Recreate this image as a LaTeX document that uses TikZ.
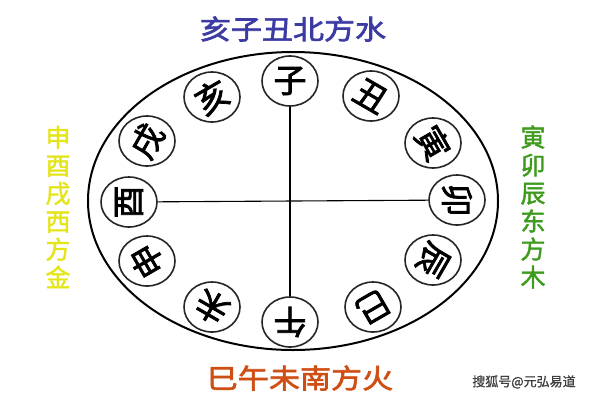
\documentclass[tikz,border=0pt]{standalone}
\usepackage{fontspec}
\usetikzlibrary{shapes.geometric}
\newfontfamily\cjk{Noto Sans CJK SC}[FakeBold=2.2]
\newfontfamily\cjkt{Noto Sans CJK SC}[FakeBold=2.4,FakeStretch=1.15]
\newfontfamily\cjks{Noto Sans CJK SC}[FakeBold=1.6]
\newfontfamily\cjkw{Noto Sans CJK SC}[FakeBold=1]
\definecolor{tblue}{HTML}{3B3BA3}
\definecolor{tyellow}{HTML}{E4E41A}
\definecolor{tgreen}{HTML}{3F9B1E}
\definecolor{torange}{HTML}{CF4E14}
\begin{document}
\begin{tikzpicture}[x=1pt,y=-1pt,
  ring/.style={draw=black!85, line width=1.6pt, ellipse, minimum width=56pt, minimum height=50pt, inner sep=0pt},
  glyph/.style={font=\cjk\fontsize{33}{33}\selectfont, inner sep=0pt},
  title/.style={font=\cjkt\fontsize{27}{27}\selectfont, inner sep=0pt},
  side/.style={font=\cjks\fontsize{25}{28}\selectfont, align=center, inner sep=0pt},
  axis/.style={line width=1.1pt, black}]
\useasboundingbox (0,0) rectangle (600,400);
\node[draw=black, line width=2pt, ellipse, minimum width=410pt, minimum height=298pt] (big) at (293,201) {};
% twelve branches
\node[ring] (zi)   at (290,81)  {};
\node[ring] (chou) at (371,96)  {};
\node[ring] (yin)  at (433,143) {};
\node[ring] (mao)  at (457,200) {};
\node[ring] (chen) at (433,260) {};
\node[ring] (si)   at (373,307) {};
\node[ring] (wu)   at (290,322) {};
\node[ring] (wei)  at (212,307) {};
\node[ring] (shen) at (147,261) {};
\node[ring] (you)  at (129,202) {};
\node[ring] (xu)   at (147,141) {};
\node[ring] (hai)  at (212,97)  {};
\node[glyph, rotate=0]    (zi-t)   at (zi)   {子};
\node[glyph, rotate=-30]  (chou-t) at (chou) {丑};
\node[glyph, rotate=-60]  (yin-t)  at (yin)  {寅};
\node[glyph, rotate=-90]  (mao-t)  at (mao)  {卯};
\node[glyph, rotate=-120] (chen-t) at (chen) {辰};
\node[glyph, rotate=-150] (si-t)   at (si)   {巳};
\node[glyph, rotate=180]  (wu-t)   at (wu)   {午};
\node[glyph, rotate=150]  (wei-t)  at (wei)  {未};
\node[glyph, rotate=120]  (shen-t) at (shen) {申};
\node[glyph, rotate=90]   (you-t)  at (you)  {酉};
\node[glyph, rotate=60]   (xu-t)   at (xu)   {戌};
\node[glyph, rotate=30]   (hai-t)  at (hai)  {亥};
% cross
\draw[axis] (zi) -- (wu);
\draw[axis] (you) -- (mao);
% titles
\node[title, text=tblue] (north) at (293,29) {亥子丑北方水};
\node[title, text=torange] (south) at (300,378) {巳午未南方火};
\node[side, text=tyellow] (west) at (58,207) {申\\酉\\戌\\西\\方\\金};
\node[side, text=tgreen] (east) at (533,207) {寅\\卯\\辰\\东\\方\\木};
\node[font=\cjkw\fontsize{13}{13}\selectfont, text=black!75, inner sep=0pt] (mark) at (524,382) {搜狐号@元弘易道};
\end{tikzpicture}
\end{document}
